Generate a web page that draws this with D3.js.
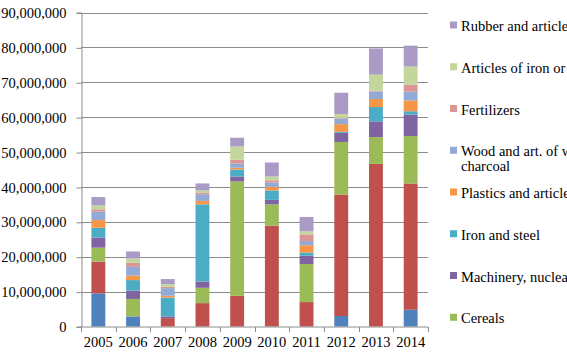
<!DOCTYPE html>
<html>
<head>
<meta charset="utf-8">
<script src="https://cdn.jsdelivr.net/npm/d3@7"></script>
<style>
  html, body { margin: 0; padding: 0; background: #fff; }
  svg { display: block; }
</style>
</head>
<body>
<svg id="chart" width="567" height="357"></svg>
<script>
// ---- Data (values in units) ----
const years = ["2005","2006","2007","2008","2009","2010","2011","2012","2013","2014"];
// stack order bottom -> top
const seriesNames = [
  "Mineral fuels, mineral oils",
  "Ores, slag and ash",
  "Cereals",
  "Machinery, nuclear reactors, boilers",
  "Iron and steel",
  "Plastics and articles thereof",
  "Wood and art. of wood; wood charcoal",
  "Fertilizers",
  "Articles of iron or steel",
  "Rubber and articles thereof"
];
const blueSeries      = [9.5, 2.9, 0,   0,    0,    0,    0,    3.0,  0,    4.8];
const redSeries       = [9.1, 0,   2.4, 6.7,  8.8,  28.9, 7.0,  34.8, 46.6, 36.2];
const cereals         = [4.0, 5.0, 0,   4.4,  32.8, 6.1,  10.9, 15.1, 7.7,  13.6];
const machinery       = [2.9, 2.4, 0.5, 1.8,  1.4,  1.3,  2.4,  2.6,  4.5,  6.1];
const ironSteel       = [2.8, 3.0, 5.4, 22.1, 2.0,  2.7,  0.9,  0.3,  4.1,  1.0];
const plastics        = [2.2, 1.3, 0.5, 1.0,  0.5,  1.0,  2.1,  2.2,  2.3,  3.1];
const wood            = [2.4, 2.5, 2.2, 1.9,  1.2,  1.3,  1.2,  1.6,  2.2,  2.5];
const fertilizers     = [0.7, 1.2, 0.4, 0.4,  1.1,  0.6,  1.9,  0.2,  0.2,  2.0];
const articlesIron    = [1.1, 1.2, 0.7, 0.7,  3.8,  1.1,  0.9,  1.1,  4.6,  5.2];
const rubber          = [2.4, 2.0, 1.5, 2.0,  2.5,  4.0,  4.1,  6.1,  7.5,  6.0];
const seriesValues = [blueSeries, redSeries, cereals, machinery, ironSteel, plastics, wood, fertilizers, articlesIron, rubber]
  .map(arr => arr.map(v => v * 1e6));
const seriesColors = ["#4F81BD","#C0504D","#9BBB59","#8064A2","#4BACC6","#F79646","#93AAD6","#D99694","#C3D69B","#A99BC6"];
const yTicks = [0,10e6,20e6,30e6,40e6,50e6,60e6,70e6,80e6,90e6];
// legend entries shown in the picture (top -> bottom), as indices into seriesNames
const legendShown = [9, 8, 7, 6, 5, 4, 3, 2];

const FONT = "'Liberation Serif', 'Times New Roman', Tinos, 'DejaVu Serif', serif";

// ---- Layout ----
const svg = d3.select("#chart");
const plot = {left: 81, right: 428, top: 12.5, bottom: 326.5};

const x = d3.scaleBand().domain(years).range([plot.left, plot.right]).paddingInner(0.6).paddingOuter(0.3);
const y = d3.scaleLinear().domain([0, 90e6]).range([plot.bottom, plot.top]);

const table = years.map((yr, i) => {
  const row = {year: yr};
  seriesNames.forEach((n, s) => row[n] = seriesValues[s][i]);
  return row;
});
const stacked = d3.stack().keys(seriesNames)(table);

// gridlines
svg.append("g")
  .selectAll("line").data(yTicks.filter(d => d > 0)).join("line")
  .attr("x1", plot.left).attr("x2", plot.right)
  .attr("y1", d => Math.round(y(d)) + 0.5).attr("y2", d => Math.round(y(d)) + 0.5)
  .attr("stroke", "#8c8c8c").attr("stroke-width", 1);

// y axis
const yAxis = svg.append("g").attr("transform", `translate(${plot.left + 0.5},0)`)
  .call(d3.axisLeft(y).tickValues(yTicks).tickFormat(d3.format(",")).tickSize(5).tickPadding(10));
yAxis.attr("font-family", null).attr("font-size", null);
yAxis.select(".domain").attr("stroke", "#8c8c8c");
yAxis.selectAll(".tick line").attr("stroke", "#8c8c8c").attr("transform", "translate(0,0.5)");
yAxis.selectAll(".tick text")
  .style("font-family", FONT).style("font-size", "14.5px")
  .attr("fill", "#000").attr("dy", "0.35em");

// bars
svg.append("g").selectAll("g").data(stacked).join("g")
  .attr("fill", (d, i) => seriesColors[i])
  .selectAll("rect").data(d => d).join("rect")
  .attr("x", d => x(d.data.year))
  .attr("width", x.bandwidth())
  .attr("y", d => y(d[1]))
  .attr("height", d => Math.max(0, y(d[0]) - y(d[1])));

// x axis
const xg = svg.append("g").attr("transform", `translate(0,${plot.bottom + 0.5})`);
xg.append("line").attr("x1", plot.left).attr("x2", plot.right).attr("stroke", "#8c8c8c");
const step = x.step();
const bounds = d3.range(years.length + 1).map(i => plot.left + i * step);
xg.selectAll("line.tk").data(bounds).join("line").attr("class", "tk")
  .attr("x1", d => Math.round(d) + 0.5).attr("x2", d => Math.round(d) + 0.5)
  .attr("y1", 0).attr("y2", 5).attr("stroke", "#8c8c8c");
xg.selectAll("text").data(years).join("text")
  .attr("x", d => x(d) + x.bandwidth() / 2)
  .attr("y", 20)
  .attr("text-anchor", "middle")
  .style("font-family", FONT).style("font-size", "14.5px")
  .attr("fill", "#000")
  .text(d => d);

// legend
const lg = svg.append("g");
legendShown.forEach((s, i) => {
  const cy = 25 + i * 41.75;
  const g = lg.append("g");
  g.append("rect").attr("x", 450).attr("y", cy - 3.5).attr("width", 7).attr("height", 7).attr("fill", seriesColors[s]);
  const name = seriesNames[s];
  let lines = [name];
  if (name.startsWith("Wood")) lines = ["Wood and art. of wood; wood", "charcoal"];
  lines.forEach((ln, k) => {
    g.append("text").attr("x", 461).attr("y", cy + 1 + k * 15).attr("dy", "0.35em")
      .style("font-family", FONT).style("font-size", "14.5px")
      .attr("fill", "#000").text(ln);
  });
});
</script>
</body>
</html>
